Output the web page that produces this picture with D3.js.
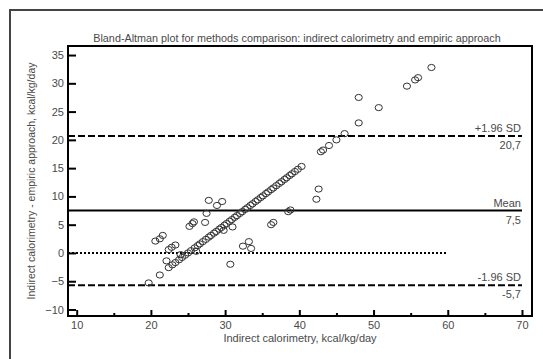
<!DOCTYPE html>
<html>
<head>
<meta charset="utf-8">
<script src="https://cdn.jsdelivr.net/npm/d3@7"></script>
<style>
	body { margin: 0; background: #fff; }
	text { font-family: "Liberation Sans", Arial, sans-serif; fill: #4a4a4a; }
</style>
</head>
<body>
<svg id="chart" width="543" height="359"></svg>
<script>
// indirect calorimetry (x) and difference IC - empiric (y)
var icValues = [19.7, 21.2, 22.4, 22.9, 23.3, 23.8, 24.2, 24.6, 25.0, 25.4, 25.9, 26.3, 26.6, 27.0,
	27.4, 27.8, 28.1, 28.5, 28.8, 29.2, 29.5, 29.9, 30.2, 30.6, 30.9, 31.3, 31.6, 32.0, 32.3, 32.7,
	33.0, 33.4, 33.7, 34.1, 34.4, 34.8, 35.1, 35.5, 35.8, 36.2, 36.5, 36.9, 37.3, 37.6, 38.0, 38.3,
	38.7, 39.0, 39.4, 39.8, 40.3, 42.9, 43.2, 44.0, 45.0, 46.1, 48.0, 50.7, 54.5, 55.6, 56.0, 57.8,
	20.6, 21.2, 21.6, 22.4, 22.8, 23.3, 25.2, 25.6, 25.8, 27.3, 27.5, 27.8, 28.9, 29.6, 30.7, 32.4,
	33.2, 33.5, 36.2, 36.5, 38.5, 38.8, 42.3, 42.6, 48.0, 31.0, 29.8, 22.1, 24.0, 26.1];
var diffValues = [-5.3, -3.9, -2.6, -2.1, -1.7, -1.2, -0.8, -0.4, 0.0, 0.4, 0.9, 1.3, 1.6, 2.0,
	2.4, 2.8, 3.1, 3.5, 3.8, 4.2, 4.5, 4.9, 5.2, 5.6, 5.9, 6.3, 6.6, 7.0, 7.3, 7.7,
	8.0, 8.4, 8.7, 9.1, 9.4, 9.8, 10.1, 10.5, 10.8, 11.2, 11.5, 11.9, 12.3, 12.6, 13.0, 13.3,
	13.7, 14.0, 14.4, 14.8, 15.3, 17.9, 18.2, 19.0, 20.0, 21.1, 23.0, 25.7, 29.5, 30.6, 31.0, 32.8,
	2.1, 2.5, 3.1, 0.6, 1.0, 1.4, 4.7, 5.2, 5.5, 5.4, 7.0, 9.3, 8.4, 9.1, -2.0, 1.2,
	2.0, 0.8, 5.0, 5.4, 7.3, 7.6, 9.5, 11.3, 27.5, 4.6, 4.0, -1.4, -0.3, 0.3];

var xTicks = [10, 20, 30, 40, 50, 60, 70];
var xMinorTicks = [15, 25, 35, 45, 55, 65];
var yTicks = [-10, -5, 0, 5, 10, 15, 20, 25, 30, 35];

var refNames = ["+1.96 SD", "Mean", "-1.96 SD"];
var refValues = [20.7, 7.5, -5.7];
var refLabels = ["20,7", "7,5", "-5,7"];

var svg = d3.select("#chart");
var margin = {top: 46, right: 11, bottom: 43, left: 68};
var W = 543, H = 359;

var x = d3.scaleLinear().domain([8.83, 71.35]).range([margin.left, W - margin.right]);
var y = d3.scaleLinear().domain([-11.15, 36.6]).range([H - margin.bottom, margin.top]);

// outer frame (runs off the picture at right and bottom)
svg.append("path")
	.attr("d", "M10,380V10H560")
	.attr("fill", "none")
	.attr("stroke", "#444")
	.attr("stroke-width", 2);

svg.append("text")
	.attr("x", (x.range()[0] + x.range()[1]) / 2 - 3)
	.attr("y", 42)
	.attr("text-anchor", "middle")
	.attr("font-size", 10.8)
	.text("Bland-Altman plot for methods comparison: indirect calorimetry and empiric approach");

// x axis, ticks pointing inward
var xAxis = svg.append("g")
	.attr("transform", "translate(0," + y.range()[0] + ")")
	.call(d3.axisBottom(x).tickValues(xTicks).tickSize(-6).tickPadding(5).tickFormat(d3.format("d")));
xAxis.selectAll(".tick line").attr("stroke", "#000").attr("stroke-width", 2);
svg.append("g")
	.attr("transform", "translate(0," + y.range()[0] + ")")
	.call(d3.axisBottom(x).tickValues(xMinorTicks).tickSize(-3).tickFormat(""))
	.call(function(g) { g.select(".domain").remove(); })
	.selectAll(".tick line").attr("stroke", "#000").attr("stroke-width", 2);

var yAxis = svg.append("g")
	.attr("transform", "translate(" + x.range()[0] + ",0)")
	.call(d3.axisLeft(y).tickValues(yTicks).tickSize(-8).tickPadding(4).tickFormat(d3.format("d")));
yAxis.selectAll(".tick line").attr("stroke", "#000").attr("stroke-width", 2);

[xAxis, yAxis].forEach(function(g) {
	g.select(".domain").remove();
	g.selectAll("text").attr("font-size", 11).attr("font-family", "Liberation Sans, Arial, sans-serif").attr("fill", "#4a4a4a");
});

// plot frame
svg.append("rect")
	.attr("x", x.range()[0])
	.attr("y", y.range()[1])
	.attr("width", x.range()[1] - x.range()[0])
	.attr("height", y.range()[0] - y.range()[1])
	.attr("fill", "none")
	.attr("stroke", "#000")
	.attr("stroke-width", 2);

// axis titles
svg.append("text")
	.attr("x", (x.range()[0] + x.range()[1]) / 2)
	.attr("y", 342)
	.attr("text-anchor", "middle")
	.attr("font-size", 11)
	.text("Indirect calorimetry, kcal/kg/day");

svg.append("text")
	.attr("transform", "translate(35," + ((y.range()[0] + y.range()[1]) / 2) + ")rotate(-90)")
	.attr("text-anchor", "middle")
	.attr("font-size", 10.5)
	.text("Indirect calorimetry - empiric approach, kcal/kg/day");

// zero line
svg.append("line")
	.attr("x1", x.range()[0]).attr("x2", x(60))
	.attr("y1", y(0)).attr("y2", y(0))
	.attr("stroke", "#000")
	.attr("stroke-width", 2)
	.attr("stroke-dasharray", "2,2");

// mean and limits of agreement
refValues.forEach(function(v, i) {
	svg.append("line")
		.attr("x1", x.range()[0]).attr("x2", x(70))
		.attr("y1", y(v)).attr("y2", y(v))
		.attr("stroke", "#000")
		.attr("stroke-width", 2)
		.attr("stroke-dasharray", i == 1 ? null : "7,3");
	svg.append("text")
		.attr("x", x(70) - 1)
		.attr("y", y(v) - 4)
		.attr("text-anchor", "end")
		.attr("font-size", 11)
		.text(refNames[i]);
	svg.append("text")
		.attr("x", x(70) - 1)
		.attr("y", y(v) + 13)
		.attr("text-anchor", "end")
		.attr("font-size", 11)
		.text(refLabels[i]);
});

// points
svg.append("g").selectAll("ellipse")
	.data(icValues)
	.enter().append("ellipse")
		.attr("cx", function(d) { return x(d); })
		.attr("cy", function(d, i) { return y(diffValues[i]); })
		.attr("rx", 3.6)
		.attr("ry", 3.1)
		.attr("fill", "none")
		.attr("stroke", "#333")
		.attr("stroke-width", 1);
</script>
</body>
</html>
